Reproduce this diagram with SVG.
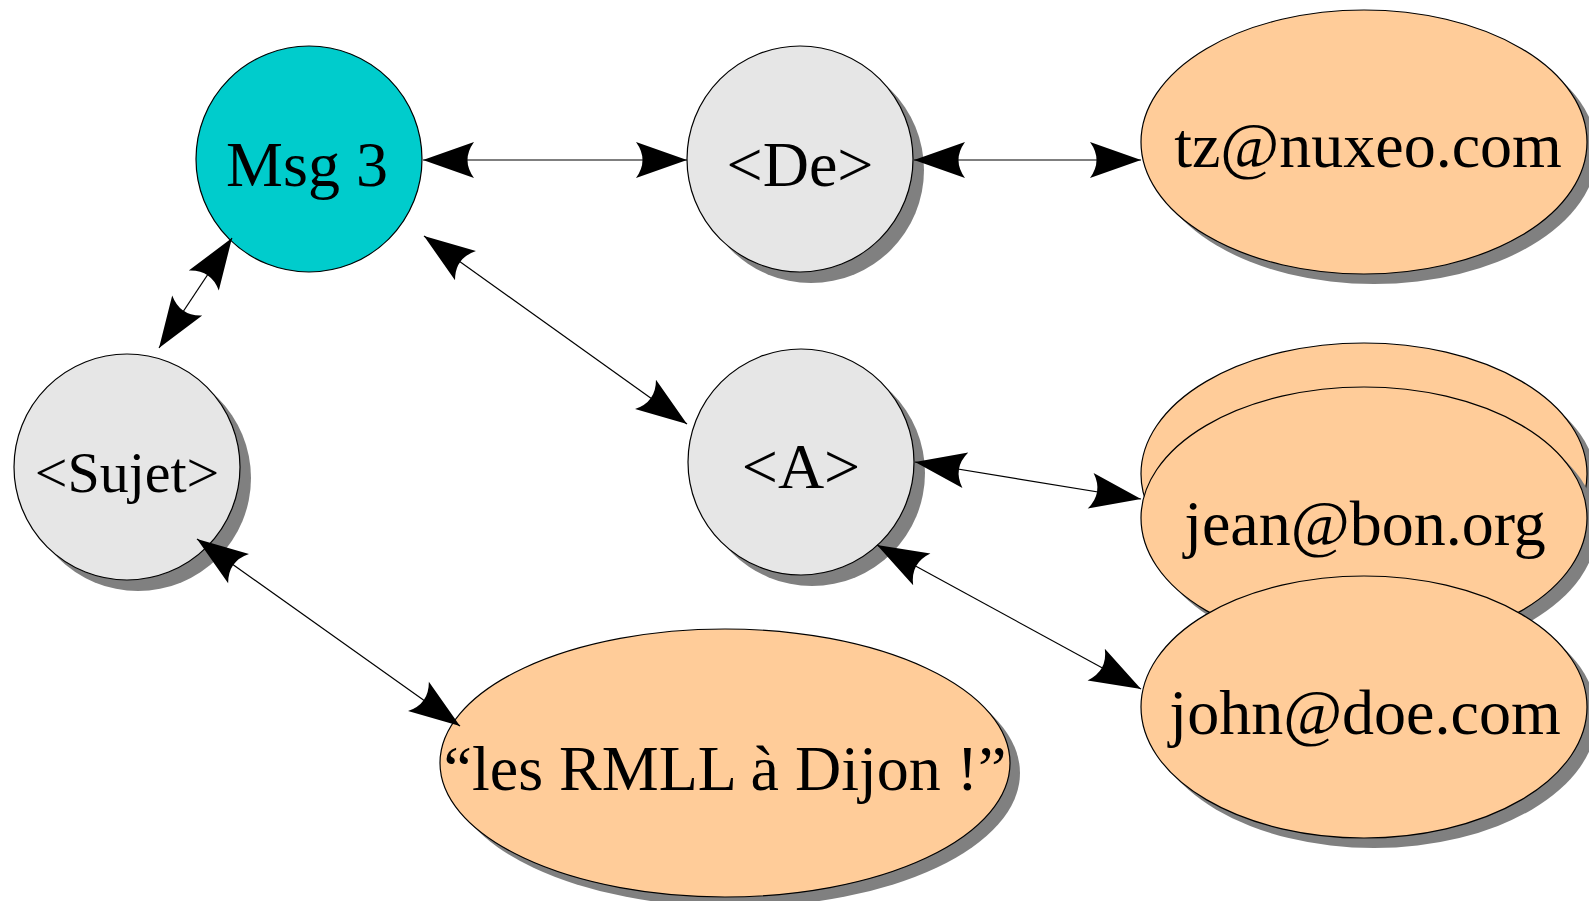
<svg xmlns="http://www.w3.org/2000/svg" width="1589" height="901" viewBox="0 0 1589 901">
<defs>
<style>
.node{stroke:#000;stroke-width:1.2}
.sh{fill:#808080;stroke:none}
.teal{fill:#00CCCC}
.grey{fill:#E6E6E6}
.orange{fill:#FFCC99}
.lbl{font-family:"Liberation Serif","Times New Roman",serif;font-size:64px;fill:#000;text-anchor:middle}
.small{font-size:58px}
.conn{stroke:#000;stroke-width:1.2;fill:none;marker-start:url(#ah);marker-end:url(#ah)}
</style>
<marker id="ah" markerUnits="userSpaceOnUse" viewBox="-52 -19 53 38" refX="0" refY="0" markerWidth="53" markerHeight="38" orient="auto-start-reverse">
<path d="M0,0 L-51,-18 Q-38,0 -51,18 Z" fill="#000"/>
</marker>
</defs>
<rect width="1589" height="901" fill="#fff"/>
<g id="node-msg3">
<circle class="node teal" cx="309" cy="159" r="113"/>
<text class="lbl" x="307" y="186">Msg 3</text>
</g>
<g id="node-de">
<circle class="sh" cx="811" cy="170" r="113"/>
<circle class="node grey" cx="800" cy="159" r="113"/>
<text class="lbl" x="800" y="186">&lt;De&gt;</text>
</g>
<g id="node-a">
<circle class="sh" cx="812" cy="473" r="113"/>
<circle class="node grey" cx="801" cy="462" r="113"/>
<text class="lbl" x="801" y="488">&lt;A&gt;</text>
</g>
<g id="node-sujet">
<circle class="sh" cx="138" cy="478" r="113"/>
<circle class="node grey" cx="127" cy="467" r="113"/>
<text class="lbl small" x="127" y="492">&lt;Sujet&gt;</text>
</g>
<g id="node-tz">
<ellipse class="sh" cx="1374" cy="152" rx="223" ry="132"/>
<ellipse class="node orange" cx="1364" cy="142" rx="223" ry="132"/>
<text class="lbl" x="1368" y="167">tz@nuxeo.com</text>
</g>
<g id="node-jean">
<ellipse class="sh" cx="1374" cy="484" rx="223" ry="131"/>
<ellipse class="node orange" cx="1364" cy="474" rx="223" ry="131"/>
<ellipse class="sh" cx="1374" cy="528" rx="223" ry="131"/>
<ellipse class="node orange" cx="1364" cy="518" rx="223" ry="131"/>
<text class="lbl" x="1365" y="545">jean@bon.org</text>
</g>
<g id="node-john">
<ellipse class="sh" cx="1374" cy="717" rx="223" ry="131"/>
<ellipse class="node orange" cx="1364" cy="707" rx="223" ry="131"/>
<text class="lbl" x="1365" y="734">john@doe.com</text>
</g>
<g id="node-sujet-value">
<ellipse class="sh" cx="735" cy="773" rx="285" ry="134"/>
<ellipse class="node orange" cx="725" cy="763" rx="285" ry="134"/>
<text class="lbl" x="725" y="790">“les RMLL à Dijon !”</text>
</g>
<g id="connectors">
<line class="conn" x1="423" y1="160" x2="687" y2="160"/>
<line class="conn" x1="914" y1="160" x2="1141" y2="160"/>
<line class="conn" x1="424" y1="236" x2="687" y2="424"/>
<line class="conn" x1="232" y1="238" x2="159" y2="348"/>
<line class="conn" x1="197" y1="539" x2="460" y2="726"/>
<line class="conn" x1="915" y1="462" x2="1141" y2="499"/>
<line class="conn" x1="877" y1="545" x2="1141" y2="689"/>
</g>
</svg>
